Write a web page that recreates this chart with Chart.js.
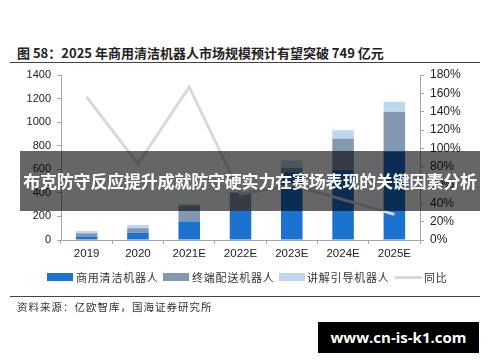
<!DOCTYPE html>
<html>
<head>
<meta charset="utf-8">
<script src="https://cdn.jsdelivr.net/npm/chart.js@4/dist/chart.umd.min.js"></script>
<style>
  body { margin: 0; width: 500px; height: 362px; background: #fff; position: relative; overflow: hidden; font-family: "Liberation Sans", Arial, sans-serif; }
  #chart-wrap { position: absolute; left: 0; top: 0; width: 500px; height: 362px; }
  .title { position: absolute; left: 17px; top: 43px; font: bold 13px "Noto Sans CJK SC", sans-serif; color: #222; white-space: nowrap; }
  .rule { position: absolute; left: 10px; width: 470px; height: 1px; background: #444; }
  .source { position: absolute; left: 17px; top: 299px; font: 10.5px "Noto Sans CJK SC", serif; color: #333; letter-spacing: 1px; }
  .legend { position: absolute; top: 270px; left: 0; font: 11px "Noto Sans CJK SC", sans-serif; color: #333; }
  .legend .sw { position: absolute; top: 3px; width: 26px; height: 8px; }
  .legend .ln { position: absolute; top: 6px; width: 27px; height: 3px; background: #d9d9d9; }
  .legend .tx { position: absolute; top: -1px; white-space: nowrap; letter-spacing: 0.8px; }
  .banner { position: absolute; left: 20px; top: 151px; width: 460px; height: 60px; background: rgba(0,0,0,0.6); color: #fff; font: bold 17px "Noto Sans CJK SC", sans-serif; line-height: 60px; text-align: center; white-space: nowrap; letter-spacing: -0.2px; }
  .mark { position: absolute; left: 318px; top: 322px; width: 161px; height: 31px; background: #000; color: #fff; font: bold 15px "Open Sans", "DejaVu Sans", sans-serif; line-height: 31px; text-align: center; }
</style>
</head>
<body>
<div class="title">图 58：2025 年商用清洁机器人市场规模预计有望突破 749 亿元</div>
<div class="rule" style="top:62px"></div>
<div id="chart-wrap"><canvas id="chart" width="500" height="362"></canvas></div>
<div class="legend">
  <div class="sw" style="left:47px;background:#1c72cf"></div><div class="tx" style="left:76px">商用清洁机器人</div>
  <div class="sw" style="left:163px;background:#8497b0"></div><div class="tx" style="left:192px">终端配送机器人</div>
  <div class="sw" style="left:279px;background:#bdd7ee"></div><div class="tx" style="left:307px">讲解引导机器人</div>
  <div class="ln" style="left:395px"></div><div class="tx" style="left:424px">同比</div>
</div>
<div class="rule" style="top:296px"></div>
<div class="source">资料来源：亿欧智库，国海证券研究所</div>
<div class="banner">布克防守反应提升成就防守硬实力在赛场表现的关键因素分析</div>
<div class="mark">www.cn-is-k1.com</div>
<script>
// values (亿元 / %)
const categories = ['2019', '2020', '2021E', '2022E', '2023E', '2024E', '2025E'];
const cleaning = [30, 62, 158, 250, 575, 596, 749];
const delivery = [27, 38, 136, 153, 38, 264, 339];
const guide = [20, 28, 10, 0, 62, 71, 85];
const yoy = [156, 83, 167, 50, 60, 44, 28];
const leftTicks = [0, 200, 400, 600, 800, 1000, 1200, 1400];
const rightTicks = [0, 20, 40, 60, 80, 100, 120, 140, 160, 180];

const axisColor = '#a6a6a6';
const tickFont = { family: 'Liberation Sans', size: 11 };

function barSet(label, data, color) {
    return {
        type: 'bar', label: label, data: data, backgroundColor: color,
        yAxisID: 'y', stack: 's', order: 1,
        categoryPercentage: 1, barPercentage: 0.42
    };
}

const ctx = document.getElementById('chart').getContext('2d');
new Chart(ctx, {
    data: {
        labels: categories,
        datasets: [
            {
                type: 'line', label: '同比', data: yoy, yAxisID: 'y1', order: 0,
                borderColor: '#d9d9d9', borderWidth: 3, pointRadius: 0, tension: 0, fill: false
            },
            barSet('商用清洁机器人', cleaning, '#1c72cf'),
            barSet('终端配送机器人', delivery, '#8497b0'),
            barSet('讲解引导机器人', guide, '#bdd7ee')
        ]
    },
    options: {
        responsive: false,
        animation: false,
        layout: { padding: { top: 75, bottom: 0, left: 0, right: 0 } },
        plugins: { legend: { display: false }, tooltip: { enabled: false } },
        scales: {
            x: {
                stacked: true,
                grid: { display: true, drawOnChartArea: false, offset: true, tickLength: 4, color: axisColor },
                border: { color: axisColor },
                ticks: { color: '#222', font: { family: 'Liberation Sans', size: 11.5 }, padding: 3, maxRotation: 0 },
                afterFit: s => { s.height = 122; }
            },
            y: {
                stacked: true, position: 'left', min: 0, max: 1400,
                afterBuildTicks: s => { s.ticks = leftTicks.map(v => ({ value: v })); },
                grid: { drawOnChartArea: false, tickLength: 4, color: axisColor },
                border: { color: axisColor },
                ticks: { color: '#222', font: tickFont, padding: 6, callback: v => String(v) },
                afterFit: s => { s.width = 61; }
            },
            y1: {
                position: 'right', min: 0, max: 180,
                afterBuildTicks: s => { s.ticks = rightTicks.map(v => ({ value: v })); },
                grid: { drawOnChartArea: false, tickLength: 4, color: axisColor },
                border: { color: axisColor },
                ticks: { color: '#222', font: { family: 'Liberation Sans', size: 12 }, padding: 6, callback: v => v + '%' },
                afterFit: s => { s.width = 80; }
            }
        }
    }
});
</script>
</body>
</html>
